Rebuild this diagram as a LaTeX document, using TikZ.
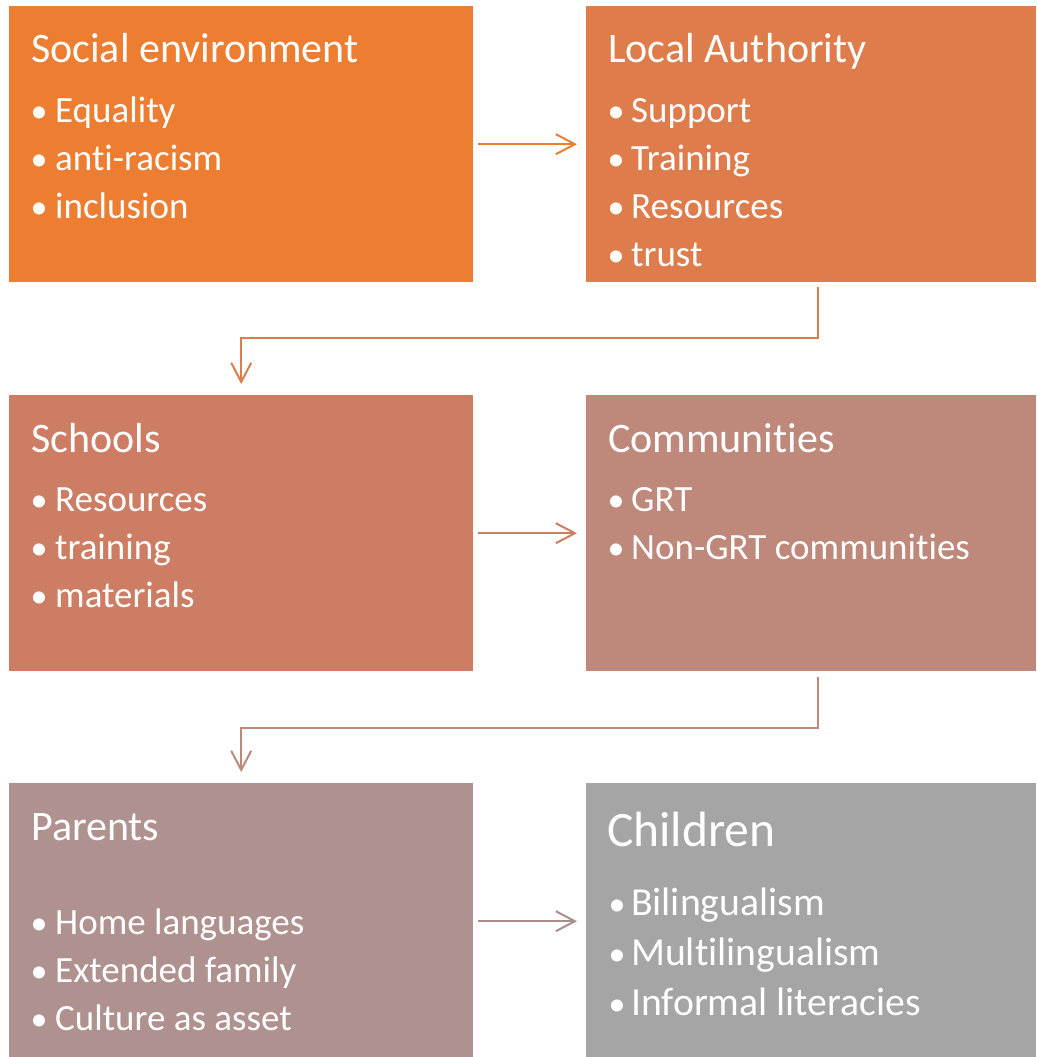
\documentclass[tikz,border=0pt]{standalone}
\usepackage{fontspec}
\setmainfont{Carlito}[Ligatures={NoCommon}]
\usetikzlibrary{arrows.meta}
\definecolor{cA}{HTML}{ED7D31}
\definecolor{cB}{HTML}{DF7C4C}
\definecolor{cC}{HTML}{CD7D63}
\definecolor{cD}{HTML}{BE887B}
\definecolor{cE}{HTML}{AF928F}
\definecolor{cF}{HTML}{A5A5A5}
\tikzset{
  box/.style={draw=none, inner sep=0pt, anchor=north west, minimum height=276pt},
  lbox/.style={box, minimum width=464pt},
  rbox/.style={box, minimum width=450pt},
  ttl/.style={anchor=base west, inner sep=0pt, text=white, font=\fontsize{42}{50}\selectfont},
  ttlbig/.style={anchor=base west, inner sep=0pt, text=white, font=\fontsize{49.5}{58}\selectfont},
  itm/.style={anchor=base west, inner sep=0pt, text=white, font=\fontsize{37}{44}\selectfont},
  itmbig/.style={anchor=base west, inner sep=0pt, text=white, font=\fontsize{39.7}{46}\selectfont},
  bul/.style={anchor=base, inner sep=0pt, text=white, font=\fontsize{34}{44}\selectfont},
  arr/.style={line width=2pt, -{Straight Barb[length=19pt, width=20pt, line width=2pt]}}
}
\begin{document}
\begin{tikzpicture}[x=1pt,y=-1pt]
\useasboundingbox[fill=white] (0,0) rectangle (1036,1057);
% boxes
\node[lbox, fill=cA] (soc) at (9,6) {};
\node[rbox, fill=cB] (loc) at (586,6) {};
\node[lbox, fill=cC] (sch) at (9,395) {};
\node[rbox, fill=cD] (com) at (586,395) {};
\node[lbox, fill=cE] (par) at (9,783) {};
\node[rbox, fill=cF] (chi) at (586,783) {};
% Social environment
\node[ttl] (t1) at (31,63) {Social environment};
\node[bul] (b11) at (39,122) {•}; \node[itm] (i11) at (55,122) {Equality};
\node[bul] (b12) at (39,170) {•}; \node[itm] (i12) at (55,170) {anti-racism};
\node[bul] (b13) at (39,218) {•}; \node[itm] (i13) at (55,218) {inclusion};
% Local Authority
\node[ttl] (t2) at (608,63) {Local Authority};
\node[bul] (b21) at (616,122) {•}; \node[itm] (i21) at (631,122) {Support};
\node[bul] (b22) at (616,170) {•}; \node[itm] (i22) at (631,170) {Training};
\node[bul] (b23) at (616,218) {•}; \node[itm] (i23) at (631,218) {Resources};
\node[bul] (b24) at (616,266) {•}; \node[itm] (i24) at (631,266) {trust};
% Schools
\node[ttl] (t3) at (31,452) {Schools};
\node[bul] (b31) at (39,511) {•}; \node[itm] (i31) at (55,511) {Resources};
\node[bul] (b32) at (39,559) {•}; \node[itm] (i32) at (55,559) {training};
\node[bul] (b33) at (39,607) {•}; \node[itm] (i33) at (55,607) {materials};
% Communities
\node[ttl] (t4) at (608,452) {Communities};
\node[bul] (b41) at (616,511) {•}; \node[itm] (i41) at (631,511) {GRT};
\node[bul] (b42) at (616,559) {•}; \node[itm] (i42) at (631,559) {Non-GRT communities};
% Parents
\node[ttl] (t5) at (31,840) {Parents};
\node[bul] (b51) at (39,934) {•}; \node[itm] (i51) at (55,934) {Home languages};
\node[bul] (b52) at (39,982) {•}; \node[itm] (i52) at (55,982) {Extended family};
\node[bul] (b53) at (39,1030) {•}; \node[itm] (i53) at (55,1030) {Culture as asset};
% Children
\node[ttlbig] (t6) at (607,846) {Children};
\node[bul] (b61) at (617,915) {•}; \node[itmbig] (i61) at (631,915) {Bilingualism};
\node[bul] (b62) at (617,965) {•}; \node[itmbig] (i62) at (631,965) {Multilingualism};
\node[bul] (b63) at (617,1015) {•}; \node[itmbig] (i63) at (631,1015) {Informal literacies};
% connectors
\draw[arr, draw=cA] ([xshift=5pt]soc.east) -- ([xshift=-9pt]loc.west);
\draw[arr, draw=cB] ([xshift=7pt,yshift=-5pt]loc.south) -- ++(0,51) -| ([yshift=11pt]sch.north);
\draw[arr, draw=cC] ([xshift=5pt]sch.east) -- ([xshift=-9pt]com.west);
\draw[arr, draw=cD] ([xshift=7pt,yshift=-6pt]com.south) -- ++(0,51) -| ([yshift=11pt]par.north);
\draw[arr, draw=cE!85!gray] ([xshift=5pt]par.east) -- ([xshift=-9pt]chi.west);
\end{tikzpicture}
\end{document}
